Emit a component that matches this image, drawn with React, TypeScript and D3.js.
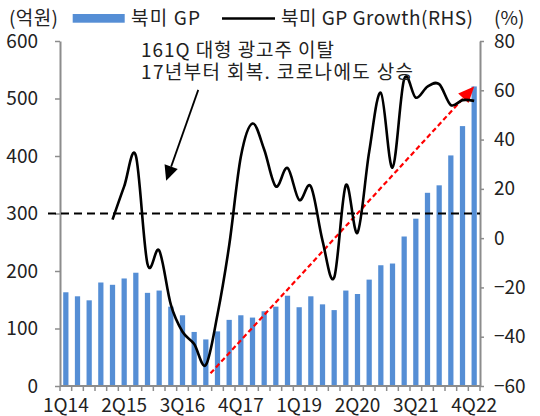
import React, { useEffect, useRef } from 'react';
import * as d3 from 'd3';

// quarterly 북미 GP (억원) and YoY growth (%)
const quarters = [
  '1Q14', '2Q14', '3Q14', '4Q14', '1Q15', '2Q15', '3Q15', '4Q15', '1Q16', '2Q16', '3Q16', '4Q16',
  '1Q17', '2Q17', '3Q17', '4Q17', '1Q18', '2Q18', '3Q18', '4Q18', '1Q19', '2Q19', '3Q19', '4Q19',
  '1Q20', '2Q20', '3Q20', '4Q20', '1Q21', '2Q21', '3Q21', '4Q21', '1Q22', '2Q22', '3Q22', '4Q22',
];
const gp = [
  163, 156, 149, 180, 176, 187, 197, 162, 166, 138, 123, 94,
  81, 95, 115, 123, 119, 130, 138, 157, 137, 156, 142, 132,
  166, 160, 185, 210, 213, 260, 291, 336, 349, 401, 452, 521,
];
const growth: (number | null)[] = [
  null, null, null, null, 7.5, 21, 33.5, -10.5, -5, -27, -38, -43,
  -51.5, -31, -3, 33, 46.5, 36, 21, 28.5, 15.5, 21, -1, -16,
  21.5, 2.2, 35, 59, 28.6, 64.5, 57, 61.5, 62.5, 54, 56, 55.7,
];
const leftTicks = [0, 100, 200, 300, 400, 500, 600];
const rightTicks = [-60, -40, -20, 0, 20, 40, 60, 80];
const shownQuarters = ['1Q14', '2Q15', '3Q16', '4Q17', '1Q19', '2Q20', '3Q21', '4Q22'];
const refLevel = 300;
const noteLines = ['161Q 대형 광고주 이탈', '17년부터 회복. 코로나에도 상승'];

const BLUE = '#558ed5';
const GREY = '#8c8c8c';
const FONT = "'Noto Sans CJK KR', sans-serif";

function App() {
  const ref = useRef<SVGSVGElement>(null);

  useEffect(() => {
    const W = 540;
    const H = 416;
    const margin = { top: 41, right: 60, bottom: 30, left: 60 };

    const svg = d3.select(ref.current);
    svg.selectAll('*').remove();

    const x = d3
      .scaleBand()
      .domain(quarters)
      .range([margin.left, W - margin.right])
      .paddingInner(0.55)
      .paddingOuter(0.275);
    const step = x.step();
    const pos = (p: number) => margin.left + p * step;
    const cx = (q: string) => (x(q) as number) + x.bandwidth() / 2;

    const yL = d3.scaleLinear().domain([0, 600]).range([H - margin.bottom, margin.top]);
    const yR = d3.scaleLinear().domain([-60, 80]).range([H - margin.bottom, margin.top]);

    // bars
    svg
      .append('g')
      .selectAll('rect')
      .data(gp)
      .enter()
      .append('rect')
      .attr('x', (d, i) => x(quarters[i]) as number)
      .attr('y', (d) => yL(d))
      .attr('width', x.bandwidth())
      .attr('height', (d) => yL(0) - yL(d))
      .attr('fill', BLUE);

    // axes
    const left = svg
      .append('g')
      .attr('transform', `translate(${margin.left},0)`)
      .call(d3.axisLeft(yL).tickValues(leftTicks).tickSize(5).tickSizeOuter(0).tickPadding(17));
    const right = svg
      .append('g')
      .attr('transform', `translate(${W - margin.right},0)`)
      .call(
        d3
          .axisRight(yR)
          .tickValues(rightTicks)
          .tickSize(4)
          .tickSizeOuter(0)
          .tickPadding(10)
          .tickFormat((d) => (+d < 0 ? `−${Math.abs(+d)}` : `${d}`))
      );
    [left, right].forEach((g) => {
      g.select('.domain').attr('stroke', GREY).attr('stroke-width', 2);
      g.selectAll('.tick line').attr('stroke', GREY).attr('stroke-width', 1.5);
      g.selectAll('text').attr('font-family', FONT).attr('font-size', 19).attr('fill', '#222');
    });

    const bottom = svg.append('g');
    bottom
      .append('line')
      .attr('x1', margin.left)
      .attr('x2', W - margin.right)
      .attr('y1', yL(0))
      .attr('y2', yL(0))
      .attr('stroke', GREY)
      .attr('stroke-width', 2);
    bottom
      .selectAll('line.tk')
      .data(d3.range(quarters.length + 1))
      .enter()
      .append('line')
      .attr('class', 'tk')
      .attr('x1', (i) => pos(i))
      .attr('x2', (i) => pos(i))
      .attr('y1', yL(0))
      .attr('y2', yL(0) + 5)
      .attr('stroke', GREY)
      .attr('stroke-width', 1.5);
    bottom
      .selectAll('text')
      .data(shownQuarters)
      .enter()
      .append('text')
      .attr('x', (q) => cx(q))
      .attr('y', 412)
      .attr('text-anchor', 'middle')
      .attr('font-family', FONT)
      .attr('font-size', 19)
      .attr('fill', '#222')
      .text((q) => q);

    // dashed reference line
    svg
      .append('line')
      .attr('x1', 48)
      .attr('x2', W - margin.right)
      .attr('y1', yL(refLevel))
      .attr('y2', yL(refLevel))
      .attr('stroke', '#000')
      .attr('stroke-width', 2)
      .attr('stroke-dasharray', '8,5');

    const arrow = (
      x1: number, y1: number, x2: number, y2: number,
      color: string, width: number, dash: string | null, len: number, half: number
    ) => {
      const a = Math.atan2(y2 - y1, x2 - x1);
      const bx = x2 - len * Math.cos(a);
      const by = y2 - len * Math.sin(a);
      const ln = svg
        .append('line')
        .attr('x1', x1)
        .attr('y1', y1)
        .attr('x2', bx)
        .attr('y2', by)
        .attr('stroke', color)
        .attr('stroke-width', width);
      if (dash) ln.attr('stroke-dasharray', dash);
      const px = -Math.sin(a) * half;
      const py = Math.cos(a) * half;
      svg
        .append('polygon')
        .attr('points', `${x2},${y2} ${bx + px},${by + py} ${bx - px},${by - py}`)
        .attr('fill', color);
    };

    // red trend arrow
    arrow(pos(12.9), yL(22), cx('4Q22'), yL(521), '#ff0000', 2.2, '5,3', 16, 7);

    // growth line
    const line = d3
      .line<number | null>()
      .defined((d) => d !== null)
      .x((d, i) => cx(quarters[i]))
      .y((d) => yR(d as number))
      .curve(d3.curveCatmullRom.alpha(0));
    svg
      .append('path')
      .datum(growth)
      .attr('fill', 'none')
      .attr('stroke', '#000')
      .attr('stroke-width', 2.6)
      .attr('d', line);

    // note arrow
    arrow(pos(11.85), yL(515), pos(9.1), yL(357), '#000', 1.8, null, 15, 7);

    const txt = (s: string, tx: number, ty: number, len?: number) => {
      const t = svg
        .append('text')
        .attr('x', tx)
        .attr('y', ty)
        .attr('font-family', FONT)
        .attr('font-size', 19)
        .attr('fill', '#222')
        .text(s);
      if (len) t.attr('textLength', len).attr('lengthAdjust', 'spacing');
      return t;
    };

    txt(noteLines[0], 141, 57, 193);
    txt(noteLines[1], 141, 78.5, 272);

    // legend + units
    txt('(억원)', 9, 25, 49);
    txt('(%)', 494, 25);
    svg.append('rect').attr('x', 72.7).attr('y', 14).attr('width', 52).attr('height', 8.7).attr('fill', BLUE);
    txt('북미 GP', 131, 25, 69);
    svg
      .append('line')
      .attr('x1', 222)
      .attr('x2', 275)
      .attr('y1', 18.5)
      .attr('y2', 18.5)
      .attr('stroke', '#000')
      .attr('stroke-width', 2.6);
    txt('북미 GP Growth(RHS)', 281, 25, 192);
  }, []);

  return (
    <svg
      ref={ref}
      width={540}
      height={416}
      style={{ position: 'absolute', left: 0, top: 0, background: '#fff' }}
    ></svg>
  );
}

export default App;
